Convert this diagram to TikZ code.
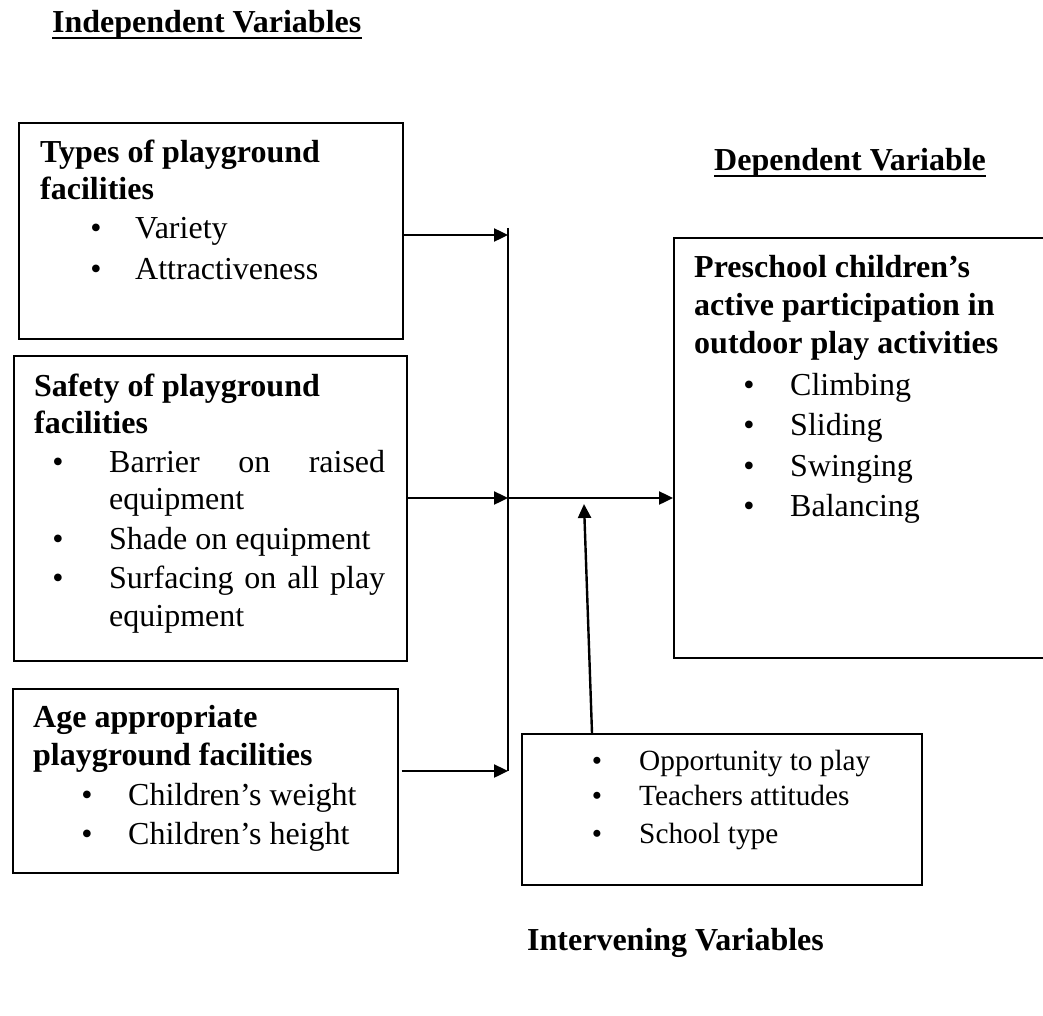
\documentclass[tikz,border=0pt]{standalone}
\usepackage{fontspec}
\setmainfont{Liberation Serif}
\usetikzlibrary{arrows.meta}
\begin{document}
\begin{tikzpicture}[x=1pt,y=-1pt,
  box/.style={draw, line width=1.6pt, inner sep=0pt, anchor=north west},
  txt/.style={anchor=base west, inner sep=0pt, font=\fontsize{32}{37}\selectfont},
  btxt/.style={anchor=base west, inner sep=0pt, font=\fontsize{32}{37}\selectfont\bfseries},
  sm/.style={anchor=base west, inner sep=0pt, font=\fontsize{29.3}{36}\selectfont},
  bul/.style={anchor=base, inner sep=0pt, font=\fontsize{32}{37}\selectfont},
  sbul/.style={anchor=base, inner sep=0pt, font=\fontsize{29.3}{36}\selectfont},
  arr/.style={line width=2.4pt, -{Triangle[length=14pt,width=13pt]}},
  conn/.style={line width=2.2pt},
  uline/.style={line width=2.4pt}
]
\useasboundingbox (0,0) rectangle (1043,1016);
\clip (0,0) rectangle (1043,1016);

% titles
\node[btxt] (t1) at (52,33) {Independent Variables};
\draw[uline] ([yshift=-5pt]t1.base west) -- ([yshift=-5pt]t1.base east);
\node[btxt] (t2) at (714,171) {Dependent Variable};
\draw[uline] ([yshift=-5pt]t2.base west) -- ([yshift=-5pt]t2.base east);
\node[btxt] (t3) at (527,950) {Intervening Variables};

% box 1
\node[box, minimum width=384pt, minimum height=216pt] (b1) at (18,122) {};
\node[btxt] (b1a) at (40,163) {Types of playground};
\node[btxt] (b1b) at (40,200) {facilities};
\node[bul] (b1c) at (96,239) {\textbullet};
\node[txt] (b1d) at (135,239) {Variety};
\node[bul] (b1e) at (96,279) {\textbullet};
\node[txt] (b1f) at (135,279) {Attractiveness};

% box 2
\node[box, minimum width=393pt, minimum height=305pt] (b2) at (13,355) {};
\node[btxt] (b2a) at (34,396) {Safety of playground};
\node[btxt] (b2b) at (34,433) {facilities};
\node[bul] (b2c) at (58,472) {\textbullet};
\node[txt] (b2d) at (109,472) {\hbox to 276pt{Barrier\hfill on\hfill raised}};
\node[txt] (b2e) at (109,509) {equipment};
\node[bul] (b2f) at (58,549) {\textbullet};
\node[txt] (b2g) at (109,549) {Shade on equipment};
\node[bul] (b2h) at (58,588) {\textbullet};
\node[txt] (b2i) at (109,588) {\hbox to 276pt{Surfacing\hfill on\hfill all\hfill play}};
\node[txt] (b2j) at (109,626) {equipment};

% box 3
\node[box, minimum width=385pt, minimum height=184pt] (b3) at (12,688) {};
\node[btxt] (b3a) at (33,727) {Age appropriate};
\node[btxt] (b3b) at (33,765) {playground facilities};
\node[bul] (b3c) at (87,805) {\textbullet};
\node[txt] (b3d) at (128,805) {Children’s weight};
\node[bul] (b3e) at (87,844) {\textbullet};
\node[txt] (b3f) at (128,844) {Children’s height};

% box 4 (dependent)
\node[box, minimum width=400pt, minimum height=420pt] (b4) at (673,237) {};
\node[btxt] (b4a) at (694,277) {Preschool children’s};
\node[btxt] (b4b) at (694,315) {active participation in};
\node[btxt] (b4c) at (694,353) {outdoor play activities};
\node[bul] (b4d) at (749,395) {\textbullet};
\node[txt] (b4e) at (790,395) {Climbing};
\node[bul] (b4f) at (749,435) {\textbullet};
\node[txt] (b4g) at (790,435) {Sliding};
\node[bul] (b4h) at (749,476) {\textbullet};
\node[txt] (b4i) at (790,476) {Swinging};
\node[bul] (b4j) at (749,516) {\textbullet};
\node[txt] (b4k) at (790,516) {Balancing};

% box 5 (intervening)
\node[box, minimum width=400pt, minimum height=151pt] (b5) at (521,733) {};
\node[sbul] (b5a) at (597,770) {\textbullet};
\node[sm] (b5b) at (639,770) {Opportunity to play};
\node[sbul] (b5c) at (597,805) {\textbullet};
\node[sm] (b5d) at (639,805) {Teachers attitudes};
\node[sbul] (b5e) at (597,843) {\textbullet};
\node[sm] (b5f) at (639,843) {School type};

% connectors
\coordinate (vt) at (508,228);
\coordinate (j1) at (508,235);
\coordinate (j2) at (508,498);
\coordinate (j3) at (508,771);
\coordinate (u) at (584,504);
\draw[conn] (vt) -- (j3);
\draw[arr] (b1.east |- j1) -- (j1);
\draw[arr] (b2.east |- j2) -- (j2);
\draw[arr] ([xshift=3pt]b3.east |- j3) -- (j3);
\draw[arr] (j2) -- (b4.west |- j2);
\draw[arr] ([xshift=71pt]b5.north west) -- (u);
\end{tikzpicture}
\end{document}
